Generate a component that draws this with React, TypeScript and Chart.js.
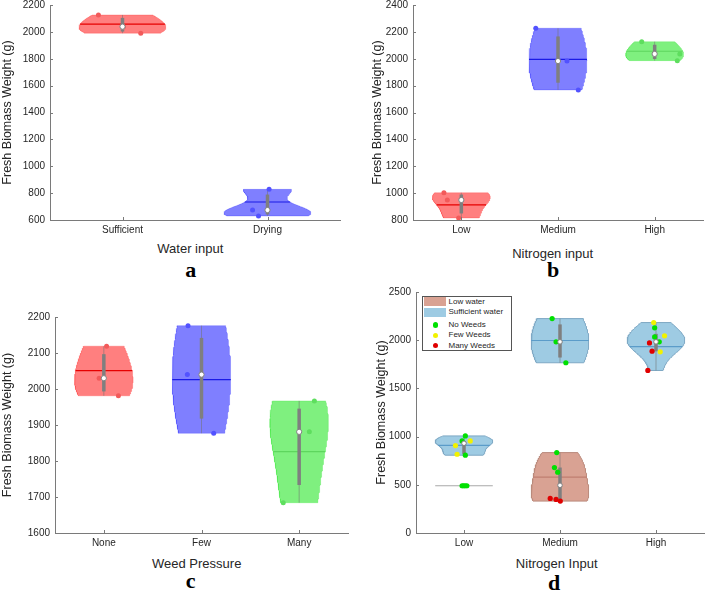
import React, { useEffect, useRef } from 'react';
import { Chart, registerables } from 'chart.js';

Chart.register(...registerables);

// ---------------- data ----------------
const Y_TITLE = 'Fresh Biomass Weight (g)';

// Panel a
const aCategories = ['Sufficient', 'Drying'];
const aValues = [[2126, 2039, 1990], [828, 674, 630]];
const aJitter = [[-0.166, 0.007, 0.126], [0.011, -0.103, -0.062]];
const aMeans = [2057, 734];
const aYTicks = [600, 800, 1000, 1200, 1400, 1600, 1800, 2000, 2200];
const aXTitle = 'Water input';

// Panel b
const bCategories = ['Low', 'Medium', 'High'];
const bValues = [[1003, 949, 815], [2227, 1983, 1768], [2127, 2036, 1986]];
const bJitter = [[-0.18, -0.145, -0.028], [-0.23, 0.093, 0.21], [-0.134, 0.26, 0.234]];
const bMeans = [912, 1996, 2056];
const bYTicks = [800, 1000, 1200, 1400, 1600, 1800, 2000, 2200, 2400];
const bXTitle = 'Nitrogen input';

// Panel c
const cCategories = ['None', 'Few', 'Many'];
const cValues = [[2119, 2030, 1981], [2176, 2040, 1877], [1967, 1881, 1684]];
const cJitter = [[0.028, -0.048, 0.149], [-0.138, -0.145, 0.125], [0.156, 0.104, -0.163]];
const cMeans = [2051, 2026, 1826];
const cYTicks = [1600, 1700, 1800, 1900, 2000, 2100, 2200];
const cXTitle = 'Weed Pressure';

// Panel d
const dCategories = ['Low', 'Medium', 'High'];
const dSufficientValues = [
  [1007, 955, 955, 907, 817, 807],
  [2224, 1983, 1766],
  [2183, 2128, 2034, 2045, 1983, 1972, 1886, 1879, 1686],
];
const dSufficientWeeds = [
  ['No', 'No', 'Few', 'Few', 'Few', 'No'],
  ['No', 'No', 'No'],
  ['Few', 'No', 'No', 'Few', 'No', 'Many', 'Many', 'Few', 'Many'],
];
const dSufficientJitter = [
  [0.014, -0.02, 0.065, -0.089, -0.072, 0.014],
  [-0.082, -0.041, 0.061],
  [-0.024, -0.014, -0.014, 0.089, 0.034, -0.068, -0.041, 0.044, -0.085],
];
const dSufficientMeans = [910, 1997, 1934];
const dLowWaterValues = [[490, 490, 490, 490], [834, 679, 631, 359, 348, 331], []];
const dLowWaterWeeds = [['No', 'No', 'No', 'No'], ['No', 'No', 'No', 'Many', 'Many', 'Many'], []];
const dLowWaterJitter = [[-0.02, -0.005, 0.012, 0.03], [-0.034, -0.058, -0.024, -0.102, -0.041, 0.003], []];
const dLowWaterMeans: (number | null)[] = [490, 579, null];
const dYTicks = [0, 500, 1000, 1500, 2000, 2500];
const dXTitle = 'Nitrogen Input';
const dLegendLabels = ['Low water', 'Sufficient water', 'No Weeds', 'Few Weeds', 'Many Weeds'];

// ---------------- styles ----------------
const FONT = "'Liberation Sans', Arial, Helvetica, sans-serif";
const TEXT = '#262626';
const AXIS = '#7a7a7a';
const HALF = 0.3;

const PRIMARY: Record<string, { fill: string; edge: string; mean: string; point: string }> = {
  red: { fill: 'rgba(255,0,0,0.5)', edge: 'rgba(255,0,0,0.2)', mean: '#e60000', point: '#f25a5a' },
  blue: { fill: 'rgba(0,0,255,0.5)', edge: 'rgba(0,0,255,0.2)', mean: '#1a1ae6', point: '#5252ff' },
  green: { fill: 'rgba(0,225,0,0.5)', edge: 'rgba(0,225,0,0.2)', mean: '#5ed65e', point: '#5ede5e' },
};
const SUFF = { fill: '#9ecbe3', edge: '#7ea8c4', mean: '#5b9cc9' };
const LOWW = { fill: '#d9a293', edge: '#ba8a7c', mean: '#bf7e70' };
const FLAT = '#a9a9a9';
const WEED: Record<string, string> = { No: '#00e000', Few: '#f2f200', Many: '#e00000' };

// ---------------- helpers ----------------
type Group = {
  pos: number;
  values: number[];
  jitter: number[];
  mean: number | null;
  pointColors: string[];
  fill: string;
  edge: string;
  meanColor: string;
  pointRadius: number;
  medianRadius: number;
};

function median(arr: number[]) {
  const s = [...arr].sort((a, b) => a - b);
  const n = s.length;
  return n % 2 ? s[(n - 1) / 2] : (s[n / 2 - 1] + s[n / 2]) / 2;
}

function mQuantile(sorted: number[], p: number) {
  const n = sorted.length;
  const pos = n * p + 0.5;
  if (pos <= 1) return sorted[0];
  if (pos >= n) return sorted[n - 1];
  const i = Math.floor(pos);
  const f = pos - i;
  return sorted[i - 1] + f * (sorted[i] - sorted[i - 1]);
}

// kernel density (normal kernel, MAD-based bandwidth), scaled to half width HALF
function violinProfile(sorted: number[]) {
  const n = sorted.length;
  const lo = sorted[0];
  const hi = sorted[n - 1];
  const med = median(sorted);
  const mad = median(sorted.map((v) => Math.abs(v - med)));
  let sig = mad / 0.6745;
  if (!(sig > 0)) sig = (hi - lo) / 2;
  const bw = sig * Math.pow(4 / (3 * n), 0.2);
  const dens = (y: number) => sorted.reduce((acc, v) => acc + Math.exp(-0.5 * ((y - v) / bw) ** 2), 0);
  const steps = 80;
  const ys: number[] = [];
  for (let i = 0; i <= steps; i++) ys.push(lo + ((hi - lo) * i) / steps);
  const ds = ys.map(dens);
  const mx = Math.max(...ds);
  return { ys, ws: ds.map((d) => (d / mx) * HALF), widthAt: (y: number) => (dens(y) / mx) * HALF };
}

function groupDatasets(g: Group): any[] {
  if (!g.values.length) return [];
  const s = [...g.values].sort((a, b) => a - b);
  const lo = s[0];
  const hi = s[s.length - 1];
  const out: any[] = [];
  const base = { type: 'line', pointRadius: 0, tension: 0, fill: false };
  const degenerate = lo === hi;
  if (degenerate) {
    out.push({ ...base, data: [{ x: g.pos - HALF, y: lo }, { x: g.pos + HALF, y: lo }], borderColor: FLAT, borderWidth: 1.2, order: 6 });
  } else {
    const prof = violinProfile(s);
    const right = prof.ys.map((y, i) => ({ x: g.pos + prof.ws[i], y }));
    const left = prof.ys.map((y, i) => ({ x: g.pos - prof.ws[i], y })).reverse();
    const poly = [{ x: g.pos, y: lo }, ...right, { x: g.pos, y: hi }, ...left, { x: g.pos, y: lo }];
    out.push({ ...base, data: poly, fill: 'shape', backgroundColor: g.fill, borderColor: g.edge, borderWidth: 1, order: 6 });
    if (g.mean != null) {
      const w = prof.widthAt(g.mean);
      out.push({ ...base, data: [{ x: g.pos - w, y: g.mean }, { x: g.pos + w, y: g.mean }], borderColor: g.meanColor, borderWidth: 1.2, order: 5 });
    }
    const q1 = mQuantile(s, 0.25);
    const q3 = mQuantile(s, 0.75);
    const iqr = q3 - q1;
    const wlo = Math.min(...s.filter((v) => v >= q1 - 1.5 * iqr));
    const whi = Math.max(...s.filter((v) => v <= q3 + 1.5 * iqr));
    out.push({ ...base, data: [{ x: g.pos, y: wlo }, { x: g.pos, y: whi }], borderColor: 'rgba(115,115,115,0.55)', borderWidth: 1, order: 4 });
    out.push({ ...base, data: [{ x: g.pos, y: q1 }, { x: g.pos, y: q3 }], borderColor: '#7f7f7f', borderWidth: 3.5, order: 3 });
  }
  out.push({
    type: 'line',
    showLine: false,
    data: g.values.map((v, i) => ({ x: g.pos + g.jitter[i], y: v })),
    pointRadius: g.pointRadius,
    pointBackgroundColor: g.pointColors,
    pointBorderWidth: 0,
    order: 2,
  });
  if (!degenerate) {
    out.push({
      type: 'line',
      showLine: false,
      data: [{ x: g.pos, y: median(s) }],
      pointRadius: g.medianRadius,
      pointBackgroundColor: '#ffffff',
      pointBorderColor: '#808080',
      pointBorderWidth: 1,
      order: 0,
    });
  }
  return out;
}

function simpleGroups(values: number[][], jitter: number[][], means: number[], colors: string[]): Group[] {
  return values.map((v, i) => {
    const c = PRIMARY[colors[i]];
    return {
      pos: i + 1, values: v, jitter: jitter[i], mean: means[i],
      pointColors: v.map(() => c.point), fill: c.fill, edge: c.edge, meanColor: c.mean,
      pointRadius: 2.5, medianRadius: 2.6,
    };
  });
}

function dGroups(): Group[] {
  const out: Group[] = [];
  dCategories.forEach((_, i) => {
    out.push({
      pos: i + 1, values: dLowWaterValues[i], jitter: dLowWaterJitter[i], mean: dLowWaterMeans[i],
      pointColors: dLowWaterWeeds[i].map((w) => WEED[w]), fill: LOWW.fill, edge: LOWW.edge, meanColor: LOWW.mean,
      pointRadius: 2.6, medianRadius: 2.3,
    });
    out.push({
      pos: i + 1, values: dSufficientValues[i], jitter: dSufficientJitter[i], mean: dSufficientMeans[i],
      pointColors: dSufficientWeeds[i].map((w) => WEED[w]), fill: SUFF.fill, edge: SUFF.edge, meanColor: SUFF.mean,
      pointRadius: 2.6, medianRadius: 2.3,
    });
  });
  return out;
}

const innerTicks = {
  id: 'innerTicks',
  afterDatasetsDraw(chart: any) {
    const { ctx, chartArea, scales } = chart;
    ctx.save();
    ctx.strokeStyle = AXIS;
    ctx.lineWidth = 1;
    ctx.beginPath();
    scales.x.ticks.forEach((t: any) => {
      const px = Math.round(scales.x.getPixelForValue(t.value)) + 0.5;
      ctx.moveTo(px, chartArea.bottom);
      ctx.lineTo(px, chartArea.bottom - 3);
    });
    scales.y.ticks.forEach((t: any) => {
      const py = Math.round(scales.y.getPixelForValue(t.value)) + 0.5;
      ctx.moveTo(chartArea.left, py);
      ctx.lineTo(chartArea.left + 3, py);
    });
    ctx.stroke();
    ctx.restore();
  },
};

type PanelSpec = {
  left: number; top: number; width: number; height: number;
  yAxisWidth: number; padRight: number;
  categories: string[]; yTicks: number[]; groups: Group[];
};

function ViolinPanel({ spec }: { spec: PanelSpec }) {
  const ref = useRef<HTMLCanvasElement>(null);
  useEffect(() => {
    if (!ref.current) return;
    const datasets = spec.groups.flatMap(groupDatasets);
    const cats = spec.categories;
    const ticks = spec.yTicks;
    const chart = new Chart(ref.current, {
      type: 'line',
      data: { datasets },
      options: {
        responsive: false,
        animation: false,
        events: [],
        layout: { padding: { top: 6, right: spec.padRight, left: 0, bottom: 0 } },
        plugins: { legend: { display: false }, tooltip: { enabled: false } },
        scales: {
          x: {
            type: 'linear',
            min: 0.5,
            max: cats.length + 0.5,
            grid: { display: false, drawTicks: false },
            border: { display: true, color: AXIS, width: 1 },
            ticks: {
              font: { family: FONT, size: 10 },
              color: TEXT,
              padding: 4,
              autoSkip: false,
              maxRotation: 0,
              callback: (_v: any, i: number) => cats[i],
            },
            afterBuildTicks: (s: any) => { s.ticks = cats.map((_, i) => ({ value: i + 1 })); },
            afterFit: (s: any) => { s.height = 20; s.paddingLeft = 0; s.paddingRight = 0; },
          },
          y: {
            type: 'linear',
            min: ticks[0],
            max: ticks[ticks.length - 1],
            grid: { display: false, drawTicks: false },
            border: { display: true, color: AXIS, width: 1 },
            ticks: {
              font: { family: FONT, size: 10 },
              color: TEXT,
              padding: 5,
              callback: (v: any) => String(v),
            },
            afterBuildTicks: (s: any) => { s.ticks = ticks.map((v) => ({ value: v })); },
            title: { display: true, text: Y_TITLE, font: { family: FONT, size: 12.5 }, color: TEXT, padding: 0 },
            afterFit: (s: any) => { s.width = spec.yAxisWidth; s.paddingTop = 0; s.paddingBottom = 0; },
          },
        },
      } as any,
      plugins: [innerTicks],
    } as any);
    return () => chart.destroy();
  }, [spec]);
  return (
    <canvas
      ref={ref}
      width={spec.width}
      height={spec.height}
      style={{ position: 'absolute', left: spec.left, top: spec.top, width: spec.width, height: spec.height }}
    />
  );
}

const panelA: PanelSpec = {
  left: 0, top: -1, width: 345, height: 241, yAxisWidth: 50, padRight: 5,
  categories: aCategories, yTicks: aYTicks, groups: simpleGroups(aValues, aJitter, aMeans, ['red', 'blue']),
};
const panelB: PanelSpec = {
  left: 370, top: -1, width: 338, height: 241, yAxisWidth: 43, padRight: 5,
  categories: bCategories, yTicks: bYTicks, groups: simpleGroups(bValues, bJitter, bMeans, ['red', 'blue', 'green']),
};
const panelC: PanelSpec = {
  left: 0, top: 311, width: 353, height: 242, yAxisWidth: 55, padRight: 5,
  categories: cCategories, yTicks: cYTicks, groups: simpleGroups(cValues, cJitter, cMeans, ['red', 'blue', 'green']),
};
const panelD: PanelSpec = {
  left: 374, top: 286, width: 335, height: 267, yAxisWidth: 42, padRight: 1,
  categories: dCategories, yTicks: dYTicks, groups: dGroups(),
};

function Label({ text, x, y, size, bold, serif }: { text: string; x: number; y: number; size: number; bold?: boolean; serif?: boolean }) {
  return (
    <div
      style={{
        position: 'absolute', left: x, top: y, transform: 'translate(-50%, -50%)',
        whiteSpace: 'nowrap', lineHeight: 1, fontSize: size, color: serif ? '#000' : TEXT,
        fontWeight: bold ? 700 : 400,
        fontFamily: serif ? "'Liberation Serif', 'Times New Roman', serif" : FONT,
      }}
    >
      {text}
    </div>
  );
}

const legendRowCenters = [4.7, 15.3, 28, 38.3, 48.5];
const legendMarks = [
  { kind: 'rect', color: LOWW.fill },
  { kind: 'rect', color: SUFF.fill },
  { kind: 'dot', color: WEED.No },
  { kind: 'dot', color: WEED.Few },
  { kind: 'dot', color: WEED.Many },
];

function Legend() {
  return (
    <div
      style={{
        position: 'absolute', left: 422, top: 296, width: 90, height: 55,
        border: '1px solid #555', boxSizing: 'border-box', background: '#fff', fontFamily: FONT,
      }}
    >
      {dLegendLabels.map((label, i) => {
        const c = legendRowCenters[i];
        const m = legendMarks[i];
        return (
          <React.Fragment key={label}>
            {m.kind === 'rect' ? (
              <div style={{ position: 'absolute', left: 1, top: c - 4.5, width: 21.5, height: 9, background: m.color }} />
            ) : (
              <div style={{ position: 'absolute', left: 12.7 - 2.6, top: c - 2.6, width: 5.2, height: 5.2, borderRadius: '50%', background: m.color }} />
            )}
            <div style={{ position: 'absolute', left: 25.5, top: c - 5, height: 10, lineHeight: '10px', fontSize: 8, color: TEXT, whiteSpace: 'nowrap' }}>
              {label}
            </div>
          </React.Fragment>
        );
      })}
    </div>
  );
}

export default function App() {
  return (
    <div style={{ position: 'absolute', left: 0, top: 0, width: 709, height: 593, background: '#fff', overflow: 'hidden' }}>
      <ViolinPanel spec={panelA} />
      <ViolinPanel spec={panelB} />
      <ViolinPanel spec={panelC} />
      <ViolinPanel spec={panelD} />
      <Label text={aXTitle} x={190.3} y={248} size={13} />
      <Label text={bXTitle} x={552.7} y={253} size={13} />
      <Label text={cXTitle} x={196.7} y={563} size={13} />
      <Label text={dXTitle} x={556.7} y={563} size={13} />
      <Label text="a" x={190.7} y={270} size={22} bold serif />
      <Label text="b" x={553} y={270} size={22} bold serif />
      <Label text="c" x={190.7} y={581} size={22} bold serif />
      <Label text="d" x={554} y={583} size={22} bold serif />
      <Legend />
    </div>
  );
}
